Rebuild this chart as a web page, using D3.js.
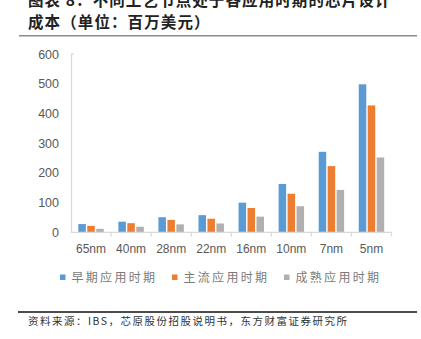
<!DOCTYPE html>
<html><head><meta charset="utf-8">
<script src="https://cdn.jsdelivr.net/npm/d3@7"></script>
<style>
html,body{margin:0;padding:0;background:#fff;}
svg{display:block;}
</style></head>
<body>
<svg id="c" width="421" height="339"></svg>
<script>
const categories = ["65nm","40nm","28nm","22nm","16nm","10nm","7nm","5nm"];
const seriesNames = ["早期应用时期","主流应用时期","成熟应用时期"];
const earlyValues = [28, 36, 51, 58, 100, 163, 271, 498];
const mainValues = [22, 31, 42, 46, 82, 130, 223, 427];
const matureValues = [12, 19, 27, 30, 53, 88, 143, 252];
const yTicks = [0, 100, 200, 300, 400, 500, 600];
const colors = ["#5B9BD5", "#ED7D31", "#B0B0B0"];
const titleLines = ["图表 8：不同工艺节点处于各应用时期的芯片设计", "成本（单位：百万美元）"];
const sourceText = "资料来源：IBS，芯原股份招股说明书，东方财富证券研究所";

(function(){
const svg = d3.select("#c");
const cjk = "'Noto Sans CJK SC', sans-serif";
const lat = "'Liberation Sans', Arial, sans-serif";

// title
svg.selectAll("text.title").data(titleLines).join("text")
  .attr("class","title")
  .attr("x", 28).attr("y", (d,i) => 6 + i*22)
  .attr("font-family", cjk).attr("font-weight", 700)
  .attr("font-size", 15.5).attr("letter-spacing", 1.1).attr("fill", "#222")
  .text(d => d);
svg.append("line").attr("x1",19).attr("x2",417).attr("y1",35.7).attr("y2",35.7)
  .attr("stroke","#8c8c8c").attr("stroke-width",1.5);

const mLeft = 71, mRight = 391.5, mTop = 54, mBottom = 232.4;
const x = d3.scaleBand().domain(categories).range([mLeft, mRight]).paddingInner(0.365).paddingOuter(0.1825);
const xs = d3.scaleBand().domain(d3.range(3)).range([0, x.bandwidth()]).paddingInner(0.16);
const y = d3.scaleLinear().domain([0, 600]).range([mBottom, mTop]);

const data = categories.map((c, i) => ({c, v: [earlyValues[i], mainValues[i], matureValues[i]]}));

// y axis
const yAxis = d3.axisLeft(y).tickValues(yTicks).tickSize(0).tickPadding(12);
const yg = svg.append("g").attr("transform", `translate(${mLeft},0)`).call(yAxis);
yg.select(".domain").attr("stroke", "#d9d9d9").attr("stroke-width", 1.3);
yg.selectAll("text").attr("font-family", lat).attr("font-size", 12.5).attr("fill", "#595959");
svg.append("line").attr("x1", mLeft).attr("x2", mLeft+3).attr("y1", y(600)).attr("y2", y(600))
  .attr("stroke", "#d9d9d9").attr("stroke-width", 1.3);

// bars
const groups = svg.append("g").selectAll("g").data(data).join("g")
  .attr("transform", d => `translate(${x(d.c)},0)`);
groups.selectAll("rect").data(d => d.v.map((v, k) => ({v, k}))).join("rect")
  .attr("x", d => xs(d.k)).attr("width", xs.bandwidth())
  .attr("y", d => y(d.v)).attr("height", d => y(0) - y(d.v))
  .attr("fill", d => colors[d.k]);

// x axis
const xAxisG = svg.append("g").attr("transform", `translate(0,${mBottom})`);
xAxisG.append("line").attr("x1", mLeft).attr("x2", mRight).attr("stroke", "#d9d9d9").attr("stroke-width", 1.3);
const bounds = categories.map((c, i) => mLeft + x.step()*(i+1));
xAxisG.selectAll("line.tk").data(bounds).join("line").attr("class","tk")
  .attr("x1", d => d).attr("x2", d => d).attr("y1", 0).attr("y2", 4)
  .attr("stroke", "#d9d9d9").attr("stroke-width", 1.3);
xAxisG.selectAll("text").data(categories).join("text")
  .attr("x", d => x(d) + x.bandwidth()/2).attr("y", 20.3)
  .attr("text-anchor", "middle")
  .attr("font-family", lat).attr("font-size", 12).attr("fill", "#595959")
  .text(d => d);

// legend
const legendX = [60, 172, 284];
const lg = svg.append("g").selectAll("g").data(seriesNames).join("g")
  .attr("transform", (d, i) => `translate(${legendX[i]},0)`);
lg.append("rect").attr("x", 0).attr("y", 274.5).attr("width", 5.5).attr("height", 5.5)
  .attr("fill", (d, i) => colors[i]);
lg.append("text").attr("x", 11.5).attr("y", 282)
  .attr("font-family", cjk).attr("font-size", 12).attr("letter-spacing", 2.3)
  .attr("fill", "#7a7a7a").text(d => d);

// source
svg.append("line").attr("x1", 18).attr("x2", 417).attr("y1", 312).attr("y2", 312)
  .attr("stroke", "#111").attr("stroke-width", 1.5);
svg.append("text").attr("x", 28).attr("y", 325)
  .attr("font-family", cjk).attr("font-size", 10.5).attr("letter-spacing", 1.5)
  .attr("fill", "#333").text(sourceText);
})();
</script>
</body></html>
